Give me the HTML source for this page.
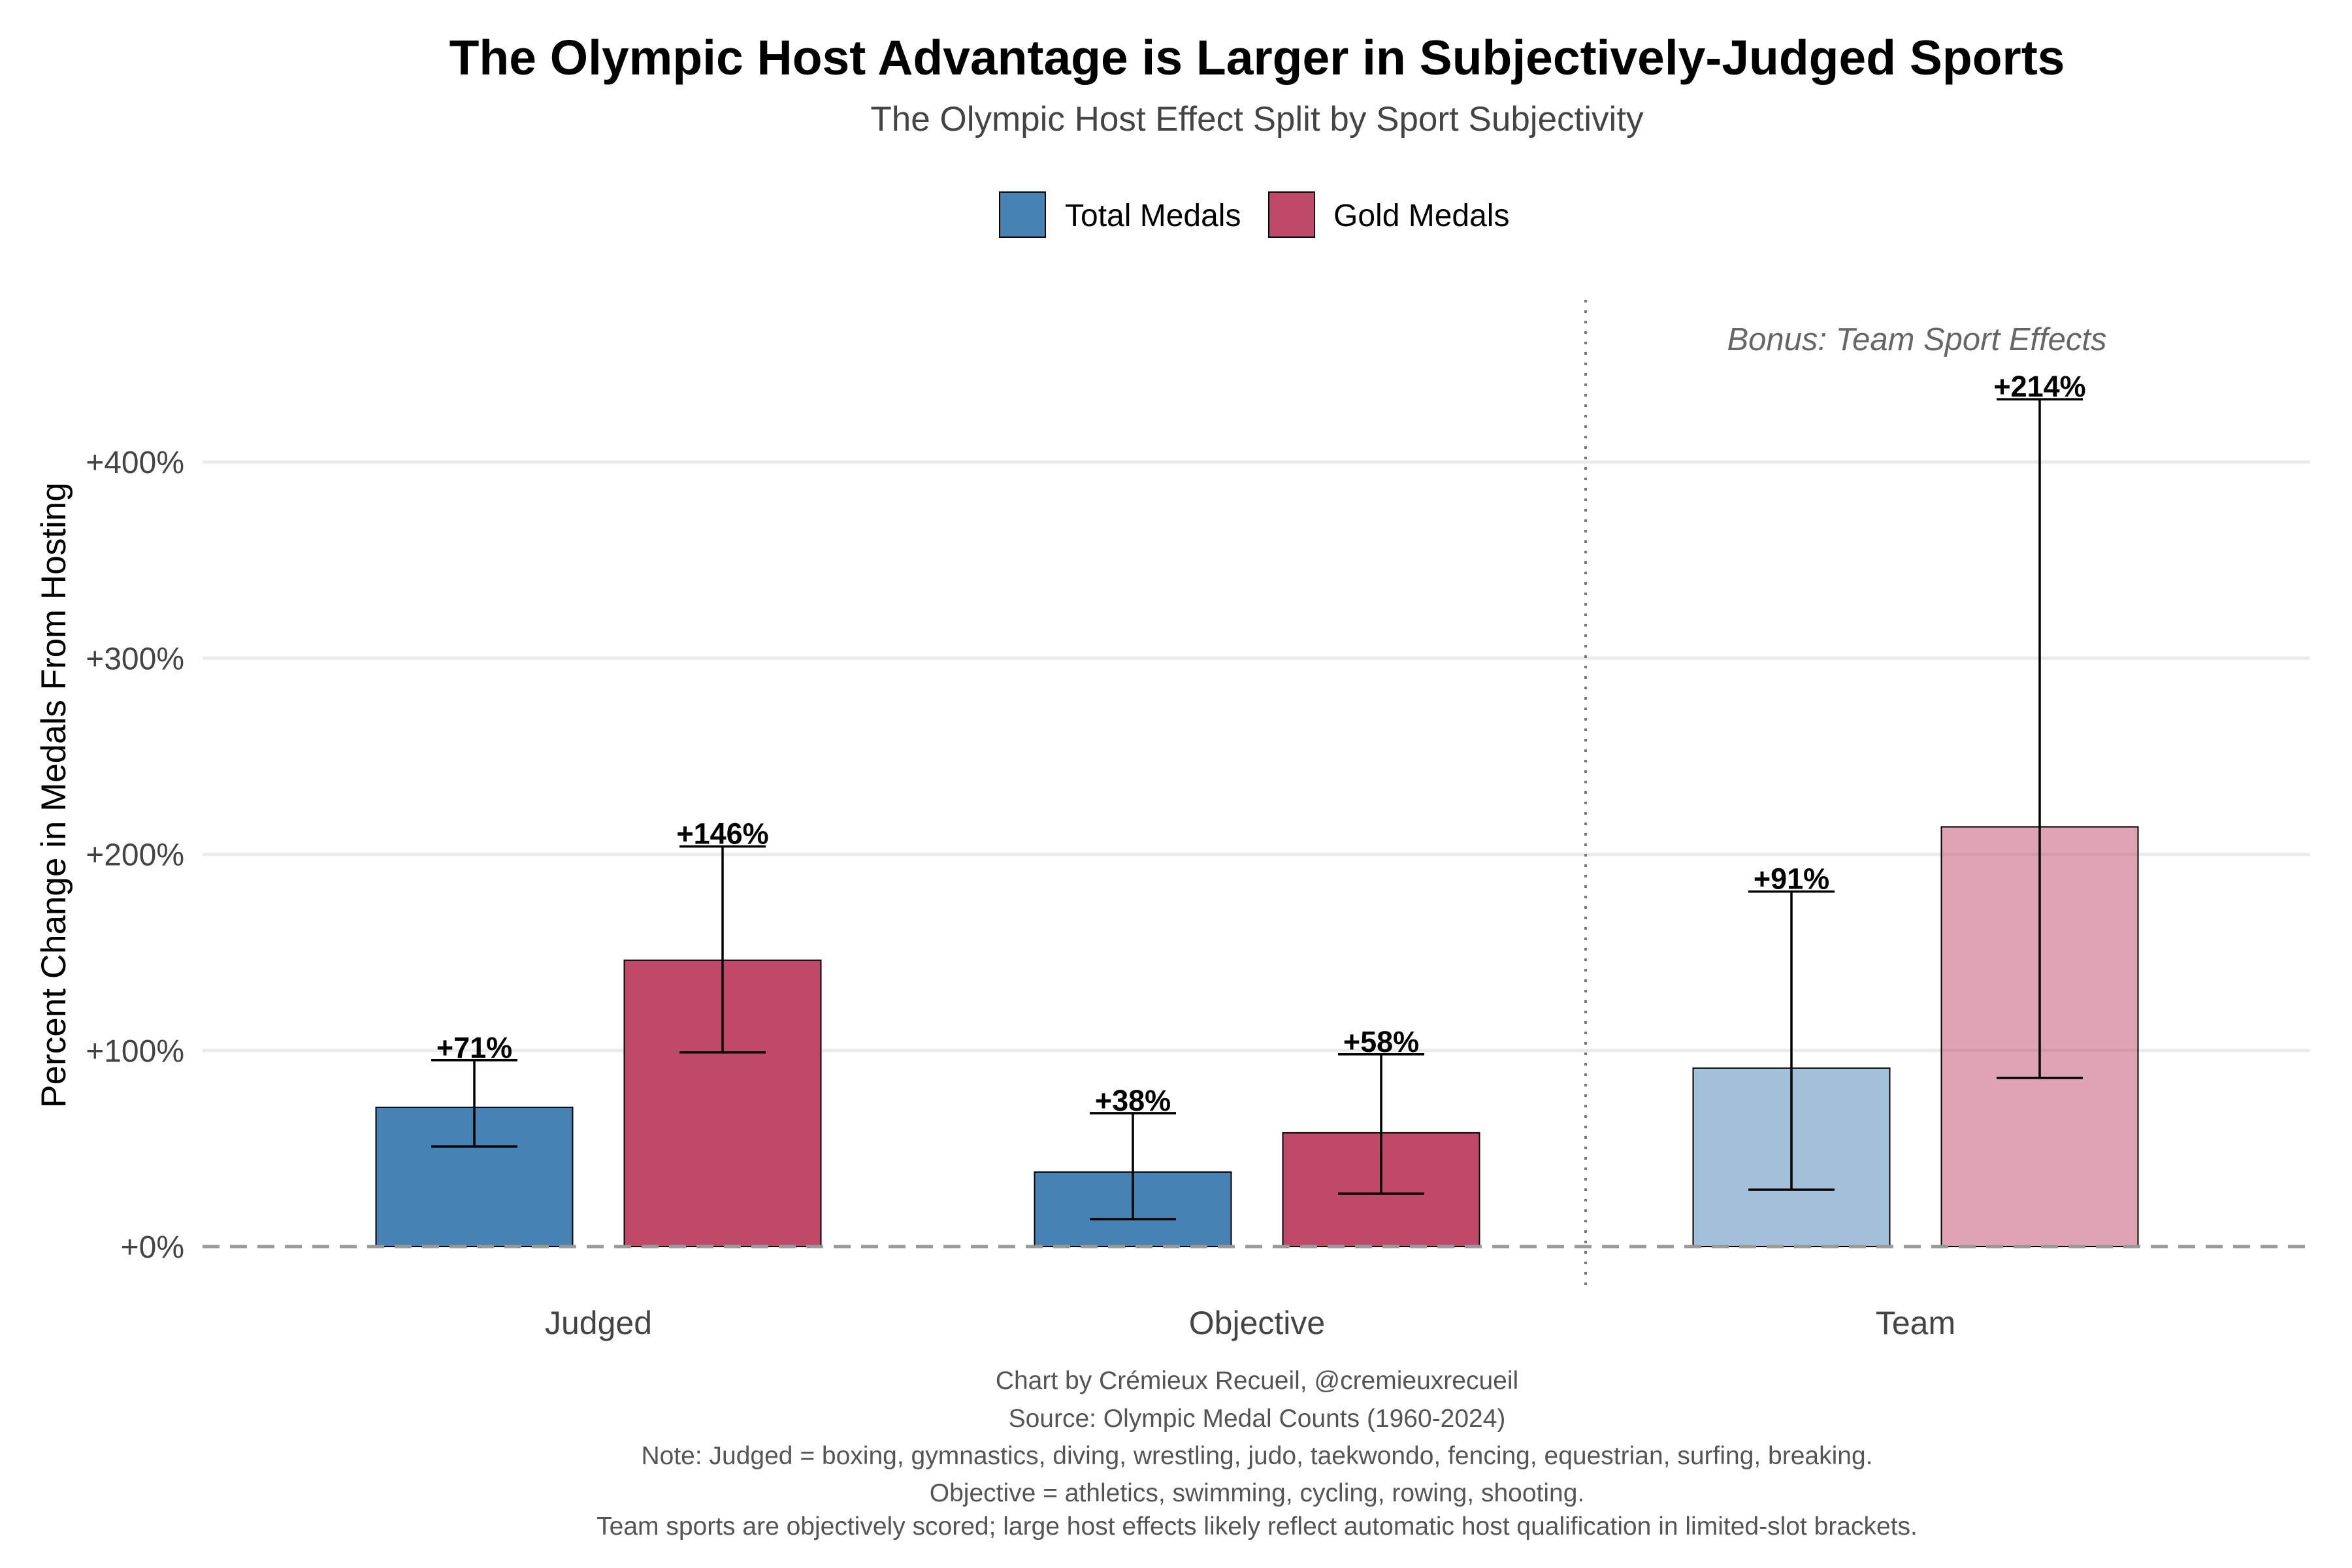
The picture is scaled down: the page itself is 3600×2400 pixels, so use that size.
<!DOCTYPE html>
<html><head><meta charset="utf-8"><style>
html,body{margin:0;padding:0;background:#fff}
svg{display:block;font-family:"Liberation Sans",Arial,sans-serif}
</style></head><body>
<svg id="chart" width="3600" height="2400" viewBox="0 0 3600 2400" xmlns="http://www.w3.org/2000/svg">
<rect width="3600" height="2400" fill="#fff"/>
<text x="1924" y="114" text-anchor="middle" font-size="75" font-weight="bold" fill="#000">The Olympic Host Advantage is Larger in Subjectively-Judged Sports</text>
<text x="1924" y="200" text-anchor="middle" font-size="53" fill="#444">The Olympic Host Effect Split by Sport Subjectivity</text>
<g>
 <g><rect x="1530" y="294" width="70" height="69" fill="#4682b4" stroke="#000" stroke-width="2"/><text x="1630" y="346" font-size="48" fill="#000">Total Medals</text></g>
 <g><rect x="1942" y="294" width="70" height="69" fill="#c0496a" stroke="#000" stroke-width="2"/><text x="2041" y="346" font-size="48" fill="#000">Gold Medals</text></g>
</g>
<g id="grid"></g>
<g id="yaxis"></g>
<text transform="translate(100,1217) rotate(-90)" text-anchor="middle" font-size="53" fill="#000">Percent Change in Medals From Hosting</text>
<g id="bars"></g>
<line x1="310" x2="3536" y1="1908" y2="1908" stroke="#999" stroke-width="5" stroke-dasharray="26,16"/>
<line x1="2427" x2="2427" y1="459" y2="1979" stroke="#777" stroke-width="4" stroke-dasharray="4,12"/>
<text x="2934" y="536" text-anchor="middle" font-size="49" font-style="italic" fill="#666">Bonus: Team Sport Effects</text>
<g id="xaxis"></g>
<g font-size="39" fill="#555" text-anchor="middle">
<text x="1924" y="2126">Chart by Crémieux Recueil, @cremieuxrecueil</text>
<text x="1924" y="2184">Source: Olympic Medal Counts (1960-2024)</text>
<text x="1924" y="2241">Note: Judged = boxing, gymnastics, diving, wrestling, judo, taekwondo, fencing, equestrian, surfing, breaking.</text>
<text x="1924" y="2298">Objective = athletics, swimming, cycling, rowing, shooting.</text>
<text x="1924" y="2349">Team sports are objectively scored; large host effects likely reflect automatic host qualification in limited-slot brackets.</text>
</g>
</svg>
<script>
const categories = ["Judged","Objective","Team"];
const totalValues = [71,38,91];
const goldValues = [146,58,214];
const totalLow = [51,14,29];
const totalHigh = [95,68,181];
const goldLow = [99,27,86];
const goldHigh = [204,98,432];
const yTicks = [0,100,200,300,400];
const yTickLabels = ["+0%","+100%","+200%","+300%","+400%"];

const NS="http://www.w3.org/2000/svg";
const y0=1908, pxPer=300.2/100;
function yScale(v){return y0 - v*pxPer;}
function xCenter(i){return 916 + i*1008;}
function mk(tag,attrs,parent){const e=document.createElementNS(NS,tag);for(const k in attrs)e.setAttribute(k,attrs[k]);parent.appendChild(e);return e;}
const grid=document.getElementById('grid'), ya=document.getElementById('yaxis'), bars=document.getElementById('bars'), xa=document.getElementById('xaxis');
yTicks.forEach((t,i)=>{
  if(t>0){const l=mk('line',{x1:310,x2:3536,y1:yScale(t),y2:yScale(t),stroke:'#ebebeb','stroke-width':5},grid);
  
  }
  const tx=mk('text',{x:282,y:yScale(t)+17,'text-anchor':'end','font-size':48,fill:'#444'},ya);
  tx.textContent=yTickLabels[i];
  
  
});
const bw=301, off=190;
categories.forEach((c,i)=>{
  const cx=xCenter(i);
  const alpha = c==="Team"?0.5:1;
  const series=[[totalValues[i],totalLow[i],totalHigh[i],'#4682b4',-off,'total'],[goldValues[i],goldLow[i],goldHigh[i],'#c0496a',off,'gold']];
  series.forEach(s=>{
    const bx=cx+s[4];
    const r=mk('rect',{x:bx-bw/2,y:yScale(s[0]),width:bw,height:yScale(0)-yScale(s[0]),fill:s[3],'fill-opacity':alpha,stroke:'#000','stroke-width':2},bars);
    
    
    const g=mk('g',{stroke:'#000','stroke-width':3.5},bars);
    
    
    mk('line',{x1:bx,x2:bx,y1:yScale(s[1]),y2:yScale(s[2])},g);
    mk('line',{x1:bx-66,x2:bx+66,y1:yScale(s[1]),y2:yScale(s[1])},g);
    mk('line',{x1:bx-66,x2:bx+66,y1:yScale(s[2]),y2:yScale(s[2])},g);
    const t=mk('text',{x:bx,y:yScale(s[2])-4,'text-anchor':'middle','font-size':45,'font-weight':'bold',fill:'#000'},bars);
    t.textContent='+'+s[0]+'%';
    
    
  });
  const xl=mk('text',{x:cx,y:2042,'text-anchor':'middle','font-size':50,fill:'#444'},xa);
  xl.textContent=c;
  
  
});
</script>
</body></html>
